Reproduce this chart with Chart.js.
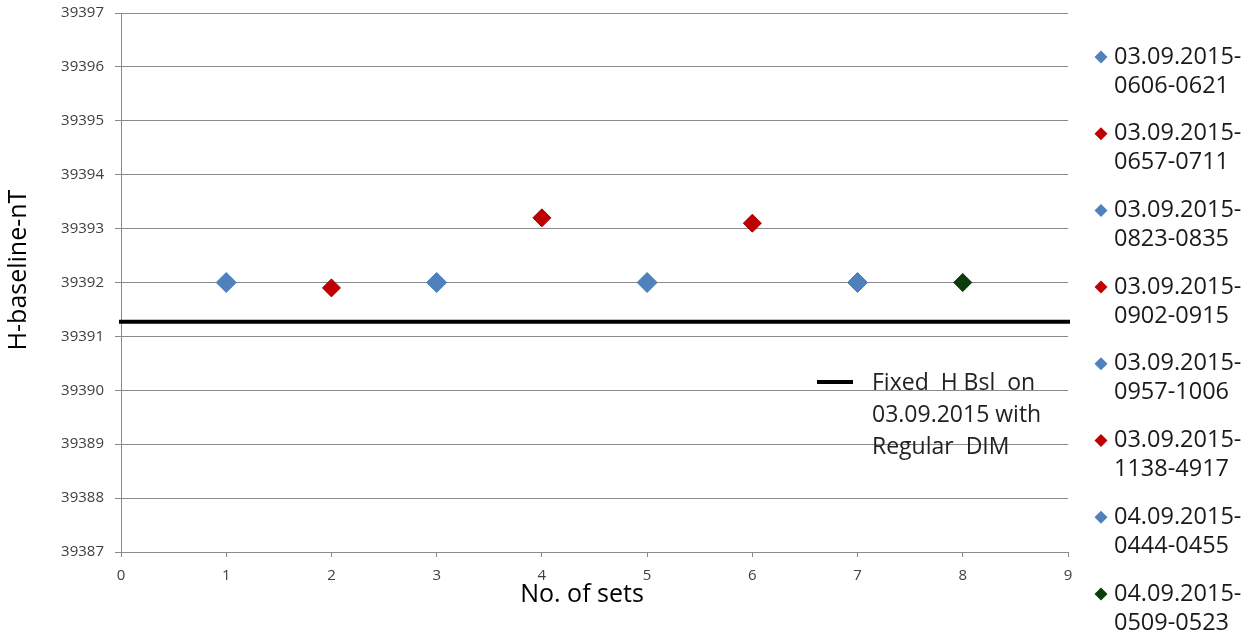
<!DOCTYPE html>
<html>
<head>
<meta charset="utf-8">
<script src="https://cdn.jsdelivr.net/npm/chart.js@4/dist/chart.umd.min.js"></script>
<style>
  html, body { margin: 0; padding: 0; background: #fff; }
  #wrap { width: 1256px; height: 634px; }
</style>
</head>
<body>
<div id="wrap"><canvas id="hChart" width="1256" height="634"></canvas></div>
<script>
// values
var setNo = [1, 2, 3, 4, 5, 6, 7, 8];
var hBaseline = [39392, 39391.9, 39392, 39393.2, 39392, 39393.1, 39392, 39392];
var setNames = [
    ['03.09.2015-', '0606-0621'],
    ['03.09.2015-', '0657-0711'],
    ['03.09.2015-', '0823-0835'],
    ['03.09.2015-', '0902-0915'],
    ['03.09.2015-', '0957-1006'],
    ['03.09.2015-', '1138-4917'],
    ['04.09.2015-', '0444-0455'],
    ['04.09.2015-', '0509-0523']
];
var setColors = ['#4F81BD', '#C00000', '#4F81BD', '#C00000', '#4F81BD', '#C00000', '#4F81BD', '#0B3D0B'];
var setBorders = ['#4A7DBA', '#A00000', '#4A7DBA', '#A00000', '#4A7DBA', '#A00000', '#4A7DBA', '#062806'];
var fixedBsl = 39391.27;
var fixedLabel = ['Fixed  H Bsl  on', '03.09.2015 with', 'Regular  DIM'];
var xRange = [0, 9];
var yRange = [39387, 39397];

var font = '"Open Sans", "DejaVu Sans", sans-serif';

var datasets = [];
for (var i = 0; i < setNo.length; i++) {
    datasets.push({
        type: 'scatter',
        label: setNames[i].join(''),
        data: [{ x: setNo[i], y: hBaseline[i] }],
        pointStyle: 'rectRot',
        pointRadius: setColors[i] == '#4F81BD' ? 10 : 9,
        backgroundColor: setColors[i],
        borderColor: setBorders[i],
        borderWidth: 1
    });
}
datasets.push({
    type: 'line',
    label: fixedLabel.join(' '),
    data: [{ x: xRange[0], y: fixedBsl }, { x: xRange[1], y: fixedBsl }],
    borderColor: '#000',
    borderWidth: 4,
    borderCapStyle: 'square',
    pointRadius: 0,
    clip: false
});

// legends and axis titles drawn by hand, the Excel layout is not what Chart.js does
var extras = {
    id: 'extras',
    afterDraw: function (chart) {
        var c = chart.ctx;
        c.save();
        c.textBaseline = 'middle';
        c.textAlign = 'left';

        // right legend
        c.font = '23.5px ' + font;
        for (var i = 0; i < setNames.length; i++) {
            var y = 57 + i * 76.7;
            c.fillStyle = setColors[i];
            c.beginPath();
            c.moveTo(1101, y - 6.5);
            c.lineTo(1107.5, y);
            c.lineTo(1101, y + 6.5);
            c.lineTo(1094.5, y);
            c.closePath();
            c.fill();
            c.fillStyle = '#1a1a1a';
            c.fillText(setNames[i][0], 1114, y);
            c.fillText(setNames[i][1], 1114, y + 29);
        }

        // legend for the fixed baseline
        c.font = '23px ' + font;
        c.strokeStyle = '#000';
        c.lineWidth = 4;
        c.beginPath();
        c.moveTo(817, 382);
        c.lineTo(853, 382);
        c.stroke();
        c.fillStyle = '#222';
        for (var j = 0; j < fixedLabel.length; j++) {
            c.fillText(fixedLabel[j], 872, 383 + j * 32);
        }

        // axis titles
        c.font = '25px ' + font;
        c.fillStyle = '#000';
        c.textAlign = 'center';
        c.fillText('No. of sets', 582, 595);
        c.translate(19, 270);
        c.rotate(-Math.PI / 2);
        c.fillText('H-baseline-nT', 0, 0);
        c.restore();
    }
};

var ctx_ = document.getElementById('hChart').getContext('2d');
var hChart = new Chart(ctx_, {
    data: { datasets: datasets },
    plugins: [extras],
    options: {
        responsive: false,
        animation: false,
        layout: { padding: { top: 13, right: 188, left: 0, bottom: 0 } },
        plugins: {
            legend: { display: false },
            tooltip: { enabled: false }
        },
        scales: {
            x: {
                type: 'linear',
                min: xRange[0],
                max: xRange[1],
                ticks: { stepSize: 1, color: '#404040', font: { family: font, size: 15 }, padding: 10 },
                grid: { drawOnChartArea: false, color: '#8a8a8a', tickLength: 5 },
                border: { color: '#8a8a8a' },
                afterFit: function (s) { s.height = 82; s.paddingLeft = 0; s.paddingRight = 0; }
            },
            y: {
                type: 'linear',
                min: yRange[0],
                max: yRange[1],
                ticks: {
                    stepSize: 1, color: '#404040', font: { family: font, size: 15 }, padding: 11,
                    callback: function (v) { return String(v); }
                },
                grid: { color: '#8a8a8a', tickLength: 6 },
                border: { color: '#8a8a8a' },
                afterFit: function (s) { s.width = 121; s.paddingTop = 0; s.paddingBottom = 0; }
            }
        }
    }
});
</script>
</body>
</html>
